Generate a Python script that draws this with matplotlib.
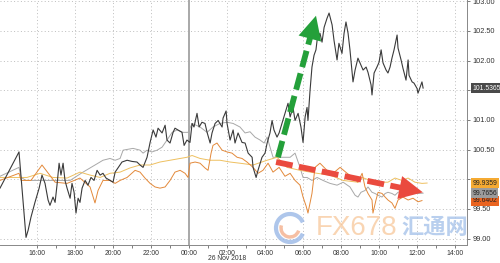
import numpy as np
import matplotlib
matplotlib.use("Agg")
import matplotlib.pyplot as plt
from matplotlib.ticker import FixedLocator, FuncFormatter
from matplotlib.patches import Arc

# hours relative to 26 Nov 2018 00:00
black_t = [-9.95, -8.95, -8.84, -8.74, -8.58, -8.47, -8.32, -8.11, -7.89, -7.74,
           -7.58, -7.42, -7.32, -7.16, -7.05, -6.95, -6.84, -6.74, -6.63, -6.53,
           -6.42, -6.26, -6.16, -6.05, -5.95, -5.84, -5.74, -5.63, -5.47, -5.32,
           -5.16, -5.00, -4.84, -4.68, -4.53, -4.37, -4.16, -4.00, -3.89, -3.53,
           -3.26, -3.00, -2.74, -2.58, -2.42, -2.21, -2.05, -1.89, -1.74, -1.63,
           -1.42, -1.26, -1.16, -1.00, -0.84, -0.74, -0.58, -0.37, -0.26, -0.11,
           0.05, 0.16, 0.26, 0.42, 0.53, 0.68, 0.84, 0.95, 1.11, 1.21,
           1.37, 1.53, 1.74, 1.79, 1.95, 2.00, 2.16, 2.32, 2.42, 2.58,
           2.79, 2.95, 3.11, 3.32, 3.37, 3.53, 3.63, 3.84, 4.00, 4.11,
           4.26, 4.37, 4.47, 4.63, 4.74, 4.89, 5.05, 5.21, 5.32, 5.47,
           5.58, 5.74, 5.89, 6.00, 6.11, 6.21, 6.26, 6.37, 6.47, 6.58,
           6.68, 6.74, 6.89, 7.00, 7.11, 7.26, 7.37, 7.53, 7.63, 7.79,
           7.89, 8.05, 8.16, 8.26, 8.37, 8.47, 8.63, 8.74, 8.89, 9.05,
           9.16, 9.32, 9.42, 9.58, 9.63, 9.74, 9.89, 10.00, 10.11, 10.21,
           10.37, 10.47, 10.58, 10.68, 10.79, 10.95, 11.00, 11.16, 11.26, 11.42,
           11.53, 11.58, 11.74, 11.84, 12.00, 12.05, 12.16, 12.26, 12.32]
black_v = [99.85, 100.46, 100.03, 99.65, 99.02, 99.14, 99.36, 99.61, 99.85, 100.07,
           99.93, 99.65, 99.56, 99.70, 99.61, 99.90, 100.27, 100.07, 100.27, 99.98,
           99.85, 99.68, 99.93, 99.78, 99.43, 99.68, 99.61, 99.85, 99.98, 99.90,
           100.03, 99.98, 100.15, 100.07, 100.10, 100.02, 99.98, 99.95, 100.12, 100.29,
           100.32, 100.30, 100.29, 100.24, 100.20, 100.37, 100.62, 100.83, 100.71, 100.86,
           100.78, 100.91, 100.66, 100.61, 100.79, 100.86, 100.83, 100.79, 100.57, 100.66,
           100.62, 100.94, 100.88, 101.11, 100.88, 100.96, 100.94, 100.79, 100.61, 100.78,
           100.94, 100.99, 100.88, 101.03, 101.15, 100.94, 100.66, 100.83, 100.61, 100.78,
           100.62, 100.61, 100.44, 100.37, 100.20, 100.03, 100.15, 100.37, 100.44, 100.61,
           100.78, 100.99, 100.83, 100.71, 100.78, 100.94, 101.11, 101.28, 101.05, 101.21,
           100.99, 101.11, 100.88, 100.62, 101.05, 101.21, 100.99, 101.50, 101.89, 102.09,
           102.18, 102.34, 102.46, 102.31, 102.56, 102.71, 102.80, 102.60, 102.34, 102.01,
           102.29, 102.12, 102.46, 102.65, 102.46, 102.18, 101.64, 101.84, 102.04, 101.92,
           101.84, 101.89, 101.80, 101.59, 101.42, 101.79, 101.89, 101.97, 102.18, 101.96,
           101.84, 101.79, 101.89, 102.04, 102.18, 102.43, 102.21, 102.01, 101.87, 101.67,
           102.01, 101.75, 101.64, 101.62, 101.53, 101.45, 101.55, 101.64, 101.5365]

gray_t = [-9.95, -8.95, -8.84, -8.58, -7.74, -6.95, -6.26, -5.58, -4.79, -4.53,
          -4.16, -3.89, -3.63, -3.47, -2.95, -2.58, -2.42, -2.21, -1.95, -1.68,
          -1.42, -1.16, -0.89, -0.63, -0.32, -0.05, 0.16, 0.58, 0.95, 1.26,
          1.63, 2.00, 2.32, 2.68, 2.95, 3.21, 3.47, 3.74, 3.95, 4.11,
          4.42, 5.32, 5.58, 5.84, 6.00, 6.21, 6.47, 6.74, 7.05, 7.42,
          7.79, 8.11, 8.47, 8.74, 8.89, 9.05, 9.26, 9.42, 9.63, 9.79,
          9.95, 10.16, 10.32, 10.47, 10.68, 10.84, 11.00, 11.26, 11.53, 11.79,
          12.05, 12.32]
gray_v = [100.05, 100.20, 100.03, 99.98, 99.98, 99.98, 99.98, 100.12, 100.27, 100.32,
          100.35, 100.32, 100.35, 100.49, 100.52, 100.49, 100.44, 100.49, 100.46, 100.49,
          100.54, 100.66, 100.79, 100.83, 100.79, 100.79, 100.94, 100.88, 100.79, 100.88,
          100.94, 100.96, 100.94, 100.88, 100.78, 100.80, 100.71, 100.66, 100.61, 100.71,
          100.37, 100.37, 100.44, 100.20, 100.03, 100.03, 99.98, 100.03, 99.98, 99.93,
          99.90, 99.95, 99.87, 99.73, 99.70, 99.78, 99.81, 99.87, 99.78, 99.76,
          99.73, 99.70, 99.76, 99.78, 99.76, 99.73, 99.78, 99.81, 99.78, 99.76,
          99.76, 99.7656]

orange_t = [-9.95, -8.95, -8.84, -8.32, -7.74, -7.05, -6.42, -5.74, -5.21, -4.95,
            -4.79, -4.53, -4.16, -3.89, -3.63, -3.26, -2.84, -2.58, -2.32, -2.05,
            -1.79, -1.53, -1.26, -1.00, -0.74, -0.47, -0.21, -0.05, 0.05, 0.32,
            0.58, 0.84, 1.00, 1.16, 1.26, 1.47, 1.74, 2.00, 2.26, 2.53,
            2.79, 3.05, 3.37, 3.63, 3.89, 4.16, 4.42, 4.74, 5.05, 5.32,
            5.58, 5.84, 6.00, 6.16, 6.26, 6.47, 6.63, 6.89, 7.26, 7.58,
            7.95, 8.32, 8.63, 8.89, 9.11, 9.26, 9.42, 9.63, 9.68, 9.84,
            9.95, 10.16, 10.32, 10.47, 10.68, 10.84, 11.00, 11.26, 11.53, 11.79,
            12.05, 12.26]
orange_v = [99.98, 100.10, 99.98, 99.98, 100.24, 99.95, 99.93, 100.02, 99.87, 99.60,
            99.81, 99.98, 99.98, 99.93, 99.98, 100.03, 100.15, 100.12, 100.02, 99.93,
            99.87, 99.85, 99.87, 99.98, 100.12, 100.15, 100.10, 100.03, 100.27, 100.29,
            100.27, 100.19, 100.15, 100.44, 100.57, 100.61, 100.49, 100.46, 100.44, 100.37,
            100.35, 100.29, 100.20, 100.10, 100.15, 100.27, 100.12, 100.20, 100.05, 100.10,
            99.98, 99.90, 99.70, 99.55, 99.43, 99.76, 100.20, 100.27, 100.15, 100.10,
            100.20, 100.10, 100.03, 99.95, 100.10, 99.87, 99.76, 99.65, 99.43, 99.65,
            99.78, 99.76, 99.70, 99.65, 99.60, 99.51, 99.65, 99.70, 99.65, 99.68,
            99.62, 99.6402]

gold_t = [-9.95, -8.95, -8.53, -7.84, -7.16, -6.42, -5.74, -5.21, -4.68, -4.16,
          -3.63, -3.11, -2.58, -2.05, -1.53, -1.00, -0.47, -0.11, 0.16, 0.58,
          1.11, 1.63, 2.16, 2.68, 3.37, 4.11, 4.63, 5.16, 5.84, 6.74,
          7.42, 8.11, 8.89, 9.11, 9.79, 10.47, 10.84, 11.21, 11.53, 11.89,
          12.26, 12.53]
gold_v = [100.03, 100.03, 100.03, 100.10, 100.03, 100.02, 100.12, 100.07, 100.03, 100.10,
          100.12, 100.19, 100.24, 100.24, 100.29, 100.32, 100.35, 100.37, 100.40, 100.35,
          100.32, 100.32, 100.29, 100.27, 100.24, 100.32, 100.37, 100.20, 100.15, 100.10,
          100.07, 99.98, 99.95, 100.03, 99.95, 99.95, 100.02, 99.98, 100.02, 99.95,
          99.93, 99.9359]

y_ticks = [99.0, 99.5, 100.0, 100.5, 101.0, 101.5, 102.0, 102.5, 103.0]
x_ticks = [-8, -6, -4, -2, 0, 2, 4, 6, 8, 10, 12, 14]
date_label = "26 Nov 2018"

# (tail, tip) of the two hand-drawn arrows, in (hour, price)
green_arrow = [(4.68, 100.37), (6.72, 102.80)]
red_arrow = [(4.58, 100.29), (12.45, 99.77)]

series = [
    (gray_t, gray_v, "#a8a8a8", 0.7, "#9c9c9c", "#222222"),
    (gold_t, gold_v, "#eec060", 0.7, "#f5aa32", "#222222"),
    (orange_t, orange_v, "#e3893a", 0.7, "#ea6420", "#222222"),
    (black_t, black_v, "#3a3a3a", 0.8, "#4a4a4a", "#ffffff"),
]

fig = plt.figure(figsize=(5.0, 2.63), dpi=100)
ax = fig.add_axes([0.0, 0.068, 0.934, 0.932])
ax.set_xlim(-9.95, 14.63)
ax.set_ylim(98.89, 103.02)

for t, v, c, lw, _, _ in series:
    ax.plot(t, v, color=c, lw=lw, zorder=3)

# grid
for yt in y_ticks:
    ax.axhline(yt, color="#bdbdbd", lw=0.7, ls=(0, (1, 2.5)), zorder=1)
for xt in x_ticks:
    if xt == 0:
        ax.axvline(xt, color="#a8a8a8", lw=1.4, zorder=1)
    else:
        ax.axvline(xt, color="#bdbdbd", lw=0.7, ls=(0, (1, 2.5)), zorder=1)

# last value boxes, stacked upward so they do not overlap
last = sorted([(s[1][-1], s) for s in series], key=lambda p: p[0])
sep = 0.125
placed = []
prev = None
for val, s in last:
    pos = val if prev is None else max(val, prev + sep)
    prev = pos
    placed.append((val, pos, s))
box_pos = [p[1] for p in placed]

# axes styling
for s in ["top", "left"]:
    ax.spines[s].set_visible(False)
ax.spines["right"].set_color("#888888")
ax.spines["bottom"].set_color("#888888")
ax.spines["right"].set_linewidth(0.7)
ax.spines["bottom"].set_linewidth(0.7)
ax.yaxis.tick_right()
ax.set_yticks(y_ticks)
ax.yaxis.set_major_formatter(FuncFormatter(
    lambda v, p: "" if min(abs(v - b) for b in box_pos) < 0.1 else f"{v:.2f}"))
ax.tick_params(axis="y", length=2, width=0.6, color="#666666", pad=2,
               labelsize=5.3, labelcolor="#333333")
ax.set_xticks(x_ticks)
ax.xaxis.set_minor_locator(FixedLocator([h + 1 for h in x_ticks]))
ax.xaxis.set_major_formatter(FuncFormatter(lambda h, p: f"{int(h) % 24:02d}:00"))
ax.tick_params(axis="x", which="both", length=2, width=0.6, color="#666666", pad=1.5,
               labelsize=4.9, labelcolor="#333333")
for lab in ax.get_xticklabels() + ax.get_yticklabels():
    lab.set_fontfamily("Liberation Sans")
fig.text(227 / 500, 2.5 / 263, date_label, ha="center", va="baseline",
         fontsize=4.9, color="#333333", family="Liberation Sans")

for val, pos, s in placed:
    ax.annotate(f"{val:.4f}", xy=(1.0, pos), xycoords=("axes fraction", "data"),
                xytext=(3.8, 0), textcoords="offset points", ha="left", va="center",
                fontsize=4.9, color=s[5], family="Liberation Sans", annotation_clip=False,
                bbox=dict(boxstyle="square,pad=0.22", fc=s[4], ec="none"), zorder=6)

# dashed arrows
def dashed_arrow(tail, tip, color):
    (x0, y0), (x1, y1) = tail, tip
    f = 0.88
    xb, yb = x0 + (x1 - x0) * f, y0 + (y1 - y0) * f
    ax.plot([x0, xb], [y0, yb], color=color, lw=4.2, dashes=(2.9, 1.1),
            solid_capstyle="butt", dash_capstyle="butt", zorder=5)
    xs, ys = x0 + (x1 - x0) * 0.86, y0 + (y1 - y0) * 0.86
    ax.annotate("", xy=(x1, y1), xytext=(xs, ys),
                arrowprops=dict(arrowstyle="-|>,head_length=0.85,head_width=0.42",
                                mutation_scale=20, color=color, lw=0), zorder=5)

dashed_arrow(*green_arrow, "#24a03a")
dashed_arrow(*red_arrow, "#ea4a3e")

# watermark
fig.text(316 / 500, 1 - 228 / 263, "FX678", fontsize=20, color="#f7c79a", alpha=0.75,
         family="Liberation Sans", ha="left", va="center", zorder=0)
fig.text(401 / 500, 1 - 227 / 263, "汇通网", fontsize=16, color="#a8c4ea", alpha=0.8,
         weight="bold", family=["Noto Sans CJK SC", "DejaVu Sans"], ha="left",
         va="center", zorder=0)
cx, cy = 290 / 500, 1 - 228 / 263
fig.add_artist(Arc((cx, cy), 28 / 500, 28 / 263, theta1=40, theta2=320,
                   color="#9ab8e6", lw=3, alpha=0.8, transform=fig.transFigure))
fig.add_artist(Arc((cx, cy), 18 / 500, 18 / 263, theta1=150, theta2=330,
                   color="#f4b08c", lw=2.5, alpha=0.8, transform=fig.transFigure))

fig.savefig("out.png", dpi=100)
